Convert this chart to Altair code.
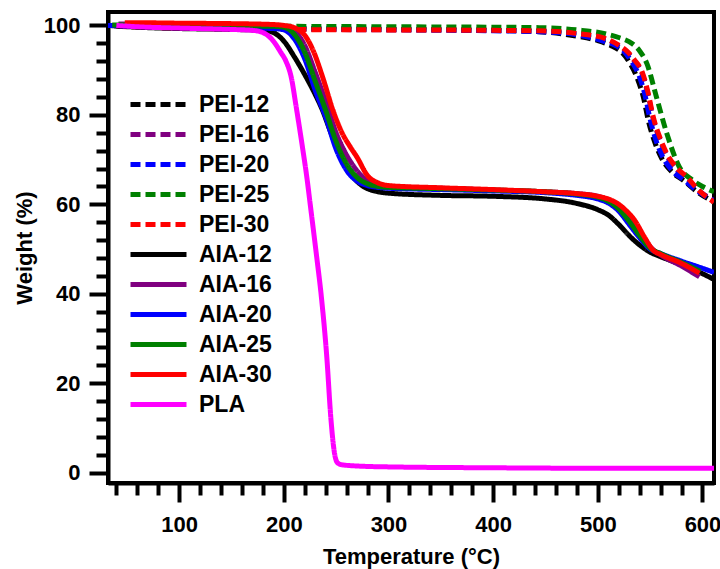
import altair as alt
import pandas as pd

SERIES = ["PEI-12", "PEI-16", "PEI-20", "PEI-25", "PEI-30",
          "AIA-12", "AIA-16", "AIA-20", "AIA-25", "AIA-30", "PLA"]
COLORS = ["#000000", "#800080", "#0000ff", "#008000", "#ff0000",
          "#000000", "#800080", "#0000ff", "#008000", "#ff0000", "#ff00ff"]
DASHES = [[10, 5]] * 5 + [[1, 0]] * 6

X_TICKS = list(range(40, 601, 20))
Y_TICKS = list(range(0, 101, 4))

# ---- PEI (dashed) ----
pei12_t = [40, 100, 200, 300, 400, 444, 480, 500, 515, 522, 530, 538, 544, 548, 555, 561, 571, 582, 595, 611]
pei12_w = [100, 99.6, 99.3, 99.1, 98.9, 98.6, 97.6, 96.6, 95.2, 94.2, 91.8, 88.0, 83.5, 79.0, 73.5, 70.3, 67.2, 65.3, 62.8, 60.5]

pei16_t = [40, 100, 200, 300, 400, 444, 480, 508, 520, 527, 535, 543, 548, 553, 560, 566, 575, 585, 597, 611]
pei16_w = [100, 99.6, 99.2, 99.0, 98.9, 98.7, 98.1, 96.9, 95.4, 94.2, 92.0, 88.8, 84.5, 79.0, 74.0, 70.8, 67.8, 65.8, 63.0, 60.8]

pei20_t = [40, 100, 200, 300, 400, 444, 480, 505, 516, 524, 532, 540, 545, 549.5, 556, 562, 572, 582, 595, 611]
pei20_w = [100, 99.6, 99.3, 99.1, 98.8, 98.6, 97.9, 96.5, 95.6, 94.4, 92.0, 88.4, 84.5, 79.5, 74.0, 70.6, 67.3, 65.5, 63.0, 60.8]

pei25_t = [40, 100, 200, 300, 400, 444, 480, 508, 520, 533, 540, 547, 556, 566, 578, 590, 600, 611]
pei25_w = [100, 99.9, 99.8, 99.7, 99.6, 99.5, 99.0, 98.1, 97.3, 95.9, 94.3, 91.4, 84.0, 75.8, 68.3, 65.5, 64.0, 62.8]

pei30_t = [40, 100, 200, 300, 400, 444, 480, 508, 520, 527, 535, 543, 548, 553, 560, 566, 575, 585, 597, 611]
pei30_w = [99.8, 99.4, 99.1, 99.0, 98.9, 98.8, 98.2, 97.0, 95.6, 94.4, 92.3, 89.2, 85.0, 79.5, 74.5, 71.3, 68.3, 66.1, 63.0, 60.5]

# ---- AIA (solid) ----
aia12_t = [32, 60, 100, 150, 180, 190, 200, 210, 220, 228, 237, 245, 255, 265, 280, 300, 350, 400, 450, 480,
           500, 510, 520, 530, 540, 550, 560, 580, 600, 611]
aia12_w = [100, 99.6, 99.3, 99.1, 98.9, 98.4, 96.5, 93.0, 89.0, 85.5, 81.0, 76.0, 70.5, 66.5, 63.5, 62.5, 62.0, 61.8, 61.2, 60.2,
           58.8, 57.6, 55.5, 53.0, 50.9, 49.3, 48.3, 46.5, 44.5, 43.2]

aia16_t = [42, 60, 100, 150, 190, 200, 210, 220, 230, 240, 250, 260, 270, 280, 290, 300, 350, 400, 450, 480,
           500, 510, 520, 530, 540, 550, 560, 580, 597]
aia16_w = [100.3, 100.3, 100.2, 100.1, 100.0, 99.8, 98.8, 95.5, 89.5, 83.0, 76.0, 71.0, 67.5, 65.2, 64.3, 64.0, 63.6, 63.2, 62.8, 62.4,
           61.8, 61.0, 59.6, 57.0, 53.8, 50.5, 48.7, 46.2, 43.8]

aia20_t = [32, 60, 100, 150, 190, 200, 210, 220, 230, 240, 250, 260, 270, 280, 290, 300, 350, 400, 450, 480,
           500, 510, 520, 530, 540, 550, 560, 580, 600, 611]
aia20_w = [100, 99.8, 99.6, 99.5, 99.3, 99.0, 97.0, 92.5, 85.5, 79.5, 72.3, 67.6, 65.2, 64.2, 63.8, 63.6, 63.3, 63.0, 62.6, 62.0,
           61.2, 60.3, 58.5, 55.5, 52.5, 50.0, 49.0, 47.3, 45.7, 44.8]

aia25_t = [36, 60, 100, 150, 190, 200, 210, 220, 230, 240, 250, 260, 270, 280, 290, 300, 350, 400, 450, 480,
           500, 510, 520, 530, 540, 550, 560, 580, 598]
aia25_w = [100.1, 100.1, 100.0, 99.9, 99.8, 99.6, 98.0, 94.0, 87.5, 81.0, 74.0, 69.0, 66.0, 64.6, 64.0, 63.8, 63.5, 63.2, 62.8, 62.3,
           61.6, 60.7, 59.0, 56.2, 53.0, 50.2, 49.0, 47.0, 45.0]

aia30_t = [48, 60, 100, 150, 190, 200, 210, 215, 220, 228, 237, 247, 256, 263, 270, 280, 290, 300, 350, 400, 450, 480,
           500, 510, 520, 527, 535, 545, 553, 560, 580, 597]
aia30_w = [100.6, 100.6, 100.5, 100.4, 100.2, 100.0, 99.5, 98.9, 97.8, 94.4, 88.5, 81.0, 75.8, 73.0, 70.5, 66.4, 64.8, 64.2, 63.7, 63.3, 62.8, 62.4,
           61.8, 61.2, 60.0, 58.6, 56.5, 52.5, 49.7, 48.8, 46.8, 44.6]

# ---- PLA ----
pla_t = [40, 60, 100, 150, 170, 180, 190, 197, 202, 207, 212, 217, 222, 226, 231, 236, 241, 245, 248, 251, 255, 270, 300, 400, 500, 611]
pla_w = [100, 99.7, 99.4, 99.1, 98.9, 98.4, 96.5, 94.0, 92.0, 88.5, 81.5, 74.0, 66.0, 58.5, 49.0, 39.0, 26.0, 12.0, 5.0, 2.3, 1.8, 1.5, 1.3, 1.1, 1.0, 1.0]

SERIES_DATA = [
    (pei12_t, pei12_w), (pei16_t, pei16_w), (pei20_t, pei20_w), (pei25_t, pei25_w), (pei30_t, pei30_w),
    (aia12_t, aia12_w), (aia16_t, aia16_w), (aia20_t, aia20_w), (aia25_t, aia25_w), (aia30_t, aia30_w),
    (pla_t, pla_w),
]

rows = []
for name, (ts, ws) in zip(SERIES, SERIES_DATA):
    for t, w in zip(ts, ws):
        rows.append({"s": name, "t": t, "w": w})
df = pd.DataFrame(rows)

FONT = "Liberation Sans"

legend = alt.Legend(
    title=None, orient="none", legendX=34, legendY=76,
    symbolType="M-2,0H2", symbolSize=784, symbolStrokeWidth=5,
    labelFont=FONT, labelFontSize=23, labelFontWeight="bold", labelColor="black",
    labelOffset=24, rowPadding=1, padding=0, labelLimit=300,
)

x_enc = alt.X(
    "t:Q",
    scale=alt.Scale(domain=[32, 611], nice=False, zero=False),
    title="Temperature (°C)",
    axis=alt.Axis(
        values=X_TICKS,
        labelExpr="datum.value % 100 === 0 ? datum.label : ''",
        tickSize={"condition": {"test": "datum.value % 100 === 0", "value": 19}, "value": 12},
        labelPadding=12, titlePadding=11, labelFlush=False, labelOverlap=False,
    ),
)
y_enc = alt.Y(
    "w:Q",
    scale=alt.Scale(domain=[-2.3, 103], nice=False, zero=False),
    title="Weight (%)",
    axis=alt.Axis(
        values=Y_TICKS,
        labelExpr="datum.value % 20 === 0 ? datum.label : ''",
        tickSize={"condition": {"test": "datum.value % 20 === 0", "value": 19}, "value": 12},
        labelPadding=9, titlePadding=7, labelOverlap=False,
    ),
)
color_enc = alt.Color("s:N", scale=alt.Scale(domain=SERIES, range=COLORS), legend=legend)
dash_enc = alt.StrokeDash("s:N", scale=alt.Scale(domain=SERIES, range=DASHES), legend=legend)

layers = []
for name in SERIES:
    layers.append(
        alt.Chart(df)
        .transform_filter(alt.datum.s == name)
        .mark_line(strokeWidth=5, clip=True, interpolate="monotone", strokeCap="butt")
        .encode(x=x_enc, y=y_enc, color=color_enc, strokeDash=dash_enc)
    )

chart = (
    alt.layer(*layers)
    .properties(
        width=606, height=471,
        autosize=alt.AutoSizeParams(type="none"),
        padding={"left": 108, "top": 12, "right": 6, "bottom": 86},
    )
    .configure_view(stroke="black", strokeWidth=4)
    .configure_axis(
        grid=False, domainColor="black", domainWidth=4, tickColor="black", tickWidth=4,
        labelFont=FONT, labelFontSize=22, labelFontWeight="bold", labelColor="black",
        titleFont=FONT, titleFontSize=22, titleFontWeight="bold", titleColor="black",
    )
)

chart.save("out.html", embed_options={"renderer": "svg", "actions": False})
